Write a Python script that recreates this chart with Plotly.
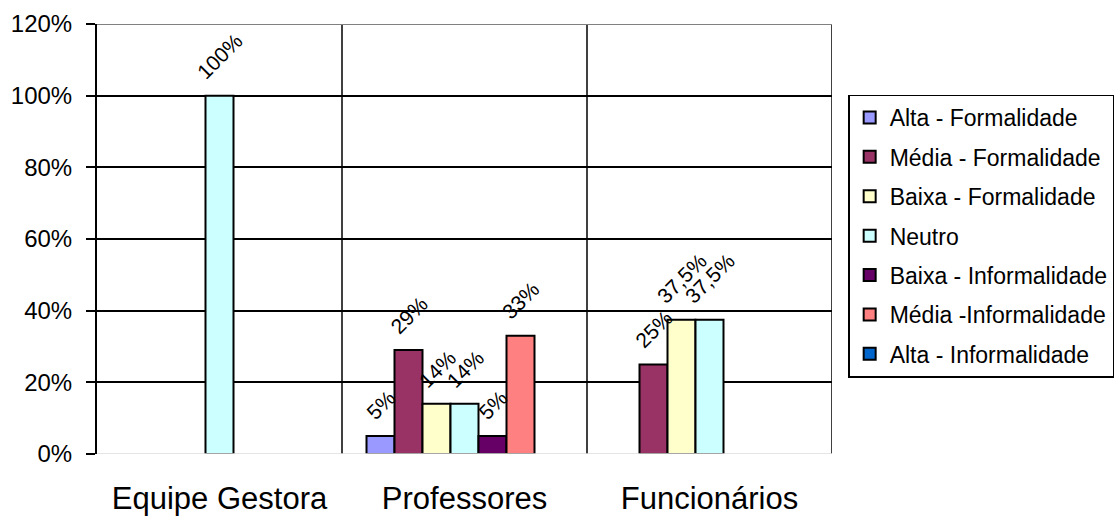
import plotly.graph_objects as go

# Groups on the x axis
categories = ["Equipe Gestora", "Professores", "Funcionários"]

# Share of answers per group (None = no answer in that group)
series_names = [
    "Alta - Formalidade",
    "Média - Formalidade",
    "Baixa - Formalidade",
    "Neutro",
    "Baixa - Informalidade",
    "Média -Informalidade",
    "Alta - Informalidade",
]
alta_formalidade = [None, 0.05, None]
media_formalidade = [None, 0.29, 0.25]
baixa_formalidade = [None, 0.14, 0.375]
neutro = [1.00, 0.14, 0.375]
baixa_informalidade = [None, 0.05, None]
media_informalidade = [None, 0.33, None]
alta_informalidade = [None, None, None]

series_values = [
    alta_formalidade,
    media_formalidade,
    baixa_formalidade,
    neutro,
    baixa_informalidade,
    media_informalidade,
    alta_informalidade,
]
series_colors = ["#9999FF", "#993366", "#FFFFCC", "#CCFFFF", "#660066", "#FF8080", "#0066CC"]

y_tick_values = [0, 0.2, 0.4, 0.6, 0.8, 1.0, 1.2]
y_tick_labels = ["0%", "20%", "40%", "60%", "80%", "100%", "120%"]

FONT = "Liberation Sans, Arial, sans-serif"
BARGAP = 0.2


def pct_label(v):
    p = round(v * 100, 1)
    if abs(p - round(p)) < 1e-9:
        return f"{int(round(p))}%"
    return f"{p:.1f}".replace(".", ",") + "%"


x_pos = list(range(len(categories)))
n_series = len(series_names)
slot = (1 - BARGAP) / n_series

fig = go.Figure()
annotations = []
for i, (name, vals, col) in enumerate(zip(series_names, series_values, series_colors)):
    fig.add_trace(go.Bar(
        name=name,
        x=x_pos,
        y=vals,
        marker=dict(color=col, line=dict(color="black", width=2)),
        legendgroup=name,
        hoverinfo="skip",
    ))
    # value labels, rotated, centred over each bar
    for xi, v in zip(x_pos, vals):
        if v is None:
            continue
        annotations.append(dict(
            x=xi + (i - (n_series - 1) / 2) * slot,
            y=v,
            xref="x", yref="y",
            text=pct_label(v),
            textangle=-45,
            showarrow=False,
            xanchor="center", yanchor="bottom",
            yshift=9,
            font=dict(family=FONT, size=21, color="black"),
        ))

# frame: category separators, right border, top border and baseline
shapes = []
for xb in [0.5, 1.5, 2.5]:
    shapes.append(dict(type="line", xref="x", yref="y", x0=xb, x1=xb, y0=0, y1=1.2,
                       line=dict(color="black", width=1.5), layer="above"))
shapes.append(dict(type="line", xref="x", yref="y", x0=-0.5, x1=2.5, y0=1.2, y1=1.2,
                   line=dict(color="#808080", width=2), layer="above"))
shapes.append(dict(type="line", xref="x", yref="y", x0=-0.5, x1=2.5, y0=0, y1=0,
                   line=dict(color="#DDDDDD", width=1.5), layer="above"))

fig.update_layout(
    width=1115,
    height=518,
    margin=dict(l=97, r=283, t=24, b=64, autoexpand=False),
    paper_bgcolor="white",
    plot_bgcolor="white",
    barmode="group",
    bargap=BARGAP,
    bargroupgap=0,
    font=dict(family=FONT, color="black"),
    showlegend=True,
    legend=dict(
        x=1.022, xanchor="left",
        y=0.836, yanchor="top",
        bordercolor="black", borderwidth=1.5,
        bgcolor="white",
        font=dict(family=FONT, size=23, color="black"),
        tracegroupgap=6.5,
        traceorder="grouped",
    ),
    xaxis=dict(
        range=[-0.5, 2.5],
        tickvals=x_pos,
        ticktext=categories,
        tickfont=dict(family=FONT, size=31, color="black"),
        showgrid=False,
        zeroline=False,
        showline=False,
        ticks="",
        ticklabelstandoff=23,
        fixedrange=True,
    ),
    yaxis=dict(
        range=[0, 1.2],
        tickvals=y_tick_values,
        ticktext=y_tick_labels,
        tickfont=dict(family=FONT, size=24, color="black"),
        showgrid=True,
        gridcolor="black",
        gridwidth=1.5,
        zeroline=False,
        showline=True,
        linecolor="black",
        linewidth=2,
        ticks="outside",
        ticklen=9,
        tickwidth=1.5,
        tickcolor="black",
        ticklabelstandoff=9,
        fixedrange=True,
    ),
    annotations=annotations,
    shapes=shapes,
)

fig.write_html("out.html")
